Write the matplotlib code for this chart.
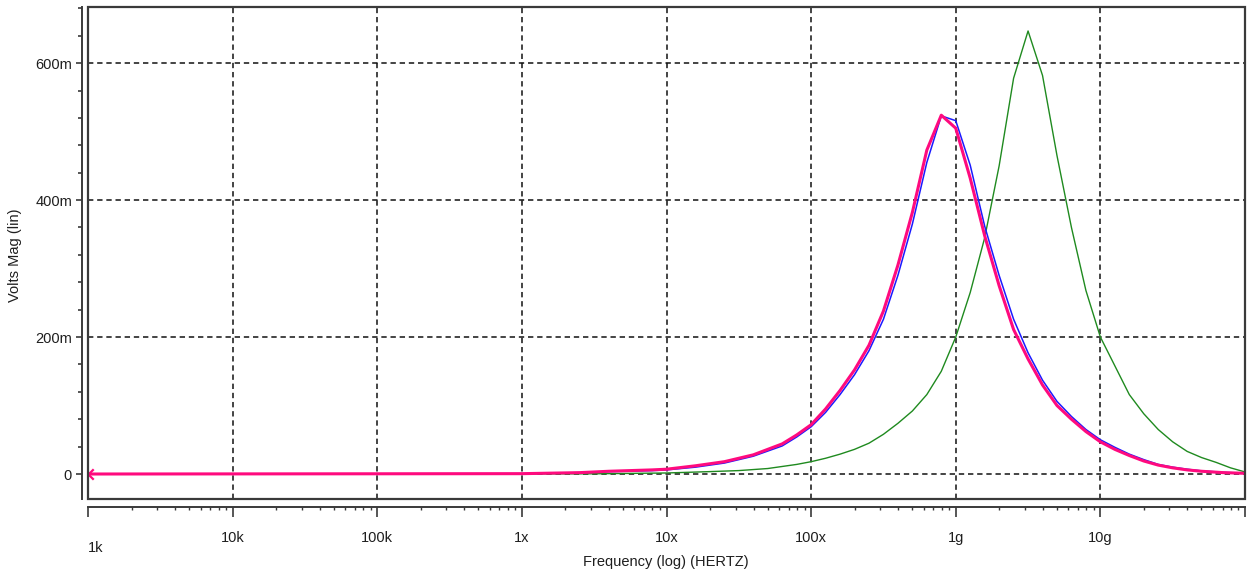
"""plot.py - AC sweep magnitude plot (three traces) in a SPICE-probe style frame."""
import numpy as np
import matplotlib
matplotlib.use("Agg")
import matplotlib.pyplot as plt                      # noqa: E402
from matplotlib import font_manager                  # noqa: E402
from matplotlib.patches import Rectangle             # noqa: E402
from matplotlib.path import Path                     # noqa: E402
from matplotlib.ticker import FixedLocator, LogLocator, NullFormatter  # noqa: E402

PINK, BLUE, GREEN = "#ff0a7e", "#1a1aff", "#1f8a1f"
INK, FRAME = "#1e1e1e", "#3a3a3a"

# ---- data (log10 of frequency in Hz, magnitude in mV) ----
pink_logf = [3.0, 6.0, 6.4, 6.6, 6.9, 7.0, 7.2, 7.4, 7.6, 7.8, 7.9, 8.0, 8.1, 8.2, 8.3,
             8.4, 8.5, 8.6, 8.7, 8.8, 8.9, 9.0, 9.1, 9.2, 9.3, 9.4, 9.5, 9.6, 9.7, 9.8,
             9.9, 10.0, 10.1, 10.2, 10.3, 10.4, 10.5, 10.6, 10.7, 10.85, 11.0]
pink_mv = [0, 0.5, 2, 4, 6, 7, 12, 18, 28, 44, 57, 72, 95, 122, 152,
           188, 238, 305, 382, 473, 524, 505, 432, 348, 275, 211, 168, 130, 100, 80,
           62, 47, 36, 27, 19, 13, 9, 6, 4, 2, 1]

blue_logf = pink_logf
blue_mv = [0, 0.5, 2, 3.5, 5, 6, 10, 16, 26, 41, 54, 69, 90, 116, 145,
           180, 226, 290, 365, 455, 523, 516, 451, 362, 290, 226, 177, 137, 106, 84,
           65, 50, 39, 29, 21, 14, 10, 7, 4.5, 2.5, 1]

green_logf = [3.0, 6.5, 7.0, 7.3, 7.5, 7.7, 7.8, 7.9, 8.0, 8.1, 8.2, 8.3, 8.4, 8.5,
              8.6, 8.7, 8.8, 8.9, 9.0, 9.1, 9.2, 9.3, 9.4, 9.5, 9.6, 9.7, 9.8, 9.9,
              10.0, 10.1, 10.2, 10.3, 10.4, 10.5, 10.6, 10.7, 10.8, 10.9, 11.0]
green_mv = [0, 0.3, 1.5, 3.5, 5, 8, 11, 14, 18, 23, 29, 36, 45, 58,
            74, 92, 116, 150, 200, 265, 345, 450, 578, 647, 582, 465, 360, 268,
            200, 158, 116, 88, 65, 47, 33, 24, 17, 9, 3]

x_tick_hz = [1e4, 1e5, 1e6, 1e7, 1e8, 1e9, 1e10]
x_tick_labels = ["10k", "100k", "1x", "10x", "100x", "1g", "10g"]
y_tick_v = [0, 0.2, 0.4, 0.6]
y_tick_labels = ["0", "200m", "400m", "600m"]


def _family(*names):
    have = {f.name for f in font_manager.fontManager.ttflist}
    return [n for n in names if n in have] + ["DejaVu Sans"]


NARROW = _family("Liberation Sans Narrow", "Liberation Sans")
REGULAR = _family("Liberation Sans", "Arial")


def _series(ax, logf, mv, **kw):
    ax.plot(10.0 ** np.asarray(logf), np.asarray(mv) / 1000.0, **kw)


def main():
    fig = plt.figure(figsize=(12.5, 5.76), dpi=100)
    ax = fig.add_axes([88 / 1250, 1 - 499 / 576, (1245 - 88) / 1250, (499 - 7) / 576])
    ax.set_xscale("log")
    ax.set_xlim(1e3, 1e11)
    ax.set_ylim(-0.0365, 0.682)

    # grid first so traces sit on top
    dash = (0, (3.5, 2.5))
    for f in x_tick_hz:
        ax.axvline(f, color="#111111", lw=1.1, ls=dash, zorder=1)
    for v in y_tick_v:
        ax.axhline(v, color="#111111", lw=1.1, ls=dash, zorder=1)

    _series(ax, green_logf, green_mv, color=GREEN, lw=1.0, zorder=3)
    _series(ax, blue_logf, blue_mv, color=BLUE, lw=1.1, zorder=4)
    _series(ax, pink_logf, pink_mv, color=PINK, lw=2.2, zorder=5)

    chev = Path([(1, 1), (0, 0), (1, -1)], [Path.MOVETO, Path.LINETO, Path.LINETO])
    ax.plot([1e3], [pink_mv[0] / 1000.0], marker=chev, ms=7.5, mfc="none", mec=PINK,
            mew=1.6, ls="none", zorder=6, clip_on=False)

    # plot frame plus detached axis lines (left and below)
    ax.add_patch(Rectangle((0, 0), 1, 1, transform=ax.transAxes, fill=False,
                           ec=FRAME, lw=1.6, zorder=7, clip_on=False))
    for s in ("top", "right"):
        ax.spines[s].set_visible(False)
    ax.spines["left"].set_position(("outward", 4))
    ax.spines["bottom"].set_position(("outward", 6))
    for s in ("left", "bottom"):
        ax.spines[s].set_color(FRAME)
        ax.spines[s].set_linewidth(1.4)

    ax.yaxis.set_major_locator(FixedLocator(y_tick_v))
    ax.set_yticklabels(y_tick_labels, family=NARROW, fontsize=10.5, color=INK)
    ax.yaxis.set_minor_locator(FixedLocator([0.04, 0.08, 0.12, 0.16, 0.24, 0.28, 0.32, 0.36,
                                             0.44, 0.48, 0.52, 0.56, 0.64, 0.68]))
    ax.tick_params(axis="y", which="major", length=4.5, width=1.2, color=FRAME, pad=3)
    ax.tick_params(axis="y", which="minor", length=3, width=1.2, color=FRAME)

    ax.xaxis.set_major_locator(FixedLocator([1e3] + x_tick_hz + [1e11]))
    ax.set_xticklabels([""] + x_tick_labels + [""], family=NARROW, fontsize=10.5, color=INK)
    ax.xaxis.set_minor_locator(LogLocator(base=10, subs=np.arange(2, 10), numticks=100))
    ax.xaxis.set_minor_formatter(NullFormatter())
    ax.tick_params(axis="x", which="major", length=7, width=1.2, color=FRAME, pad=10)
    ax.tick_params(axis="x", which="minor", length=2.5, width=1.0, color=FRAME)

    ax.text(0.0, -0.1, "1k", transform=ax.transAxes, ha="left", va="center",
            family=NARROW, fontsize=10.5, color=INK)
    fig.text(666 / 1250, 1 - 562 / 576, "Frequency (log) (HERTZ)", ha="center", va="center",
             family=NARROW, fontsize=10.5, color=INK)
    fig.text(15 / 1250, 1 - 255 / 576, "Volts Mag (lin)", ha="center", va="center",
             rotation=90, family=REGULAR, fontsize=10.5, color=INK)

    fig.savefig("out.png", dpi=100)
    plt.close(fig)


if __name__ == "__main__":
    main()
